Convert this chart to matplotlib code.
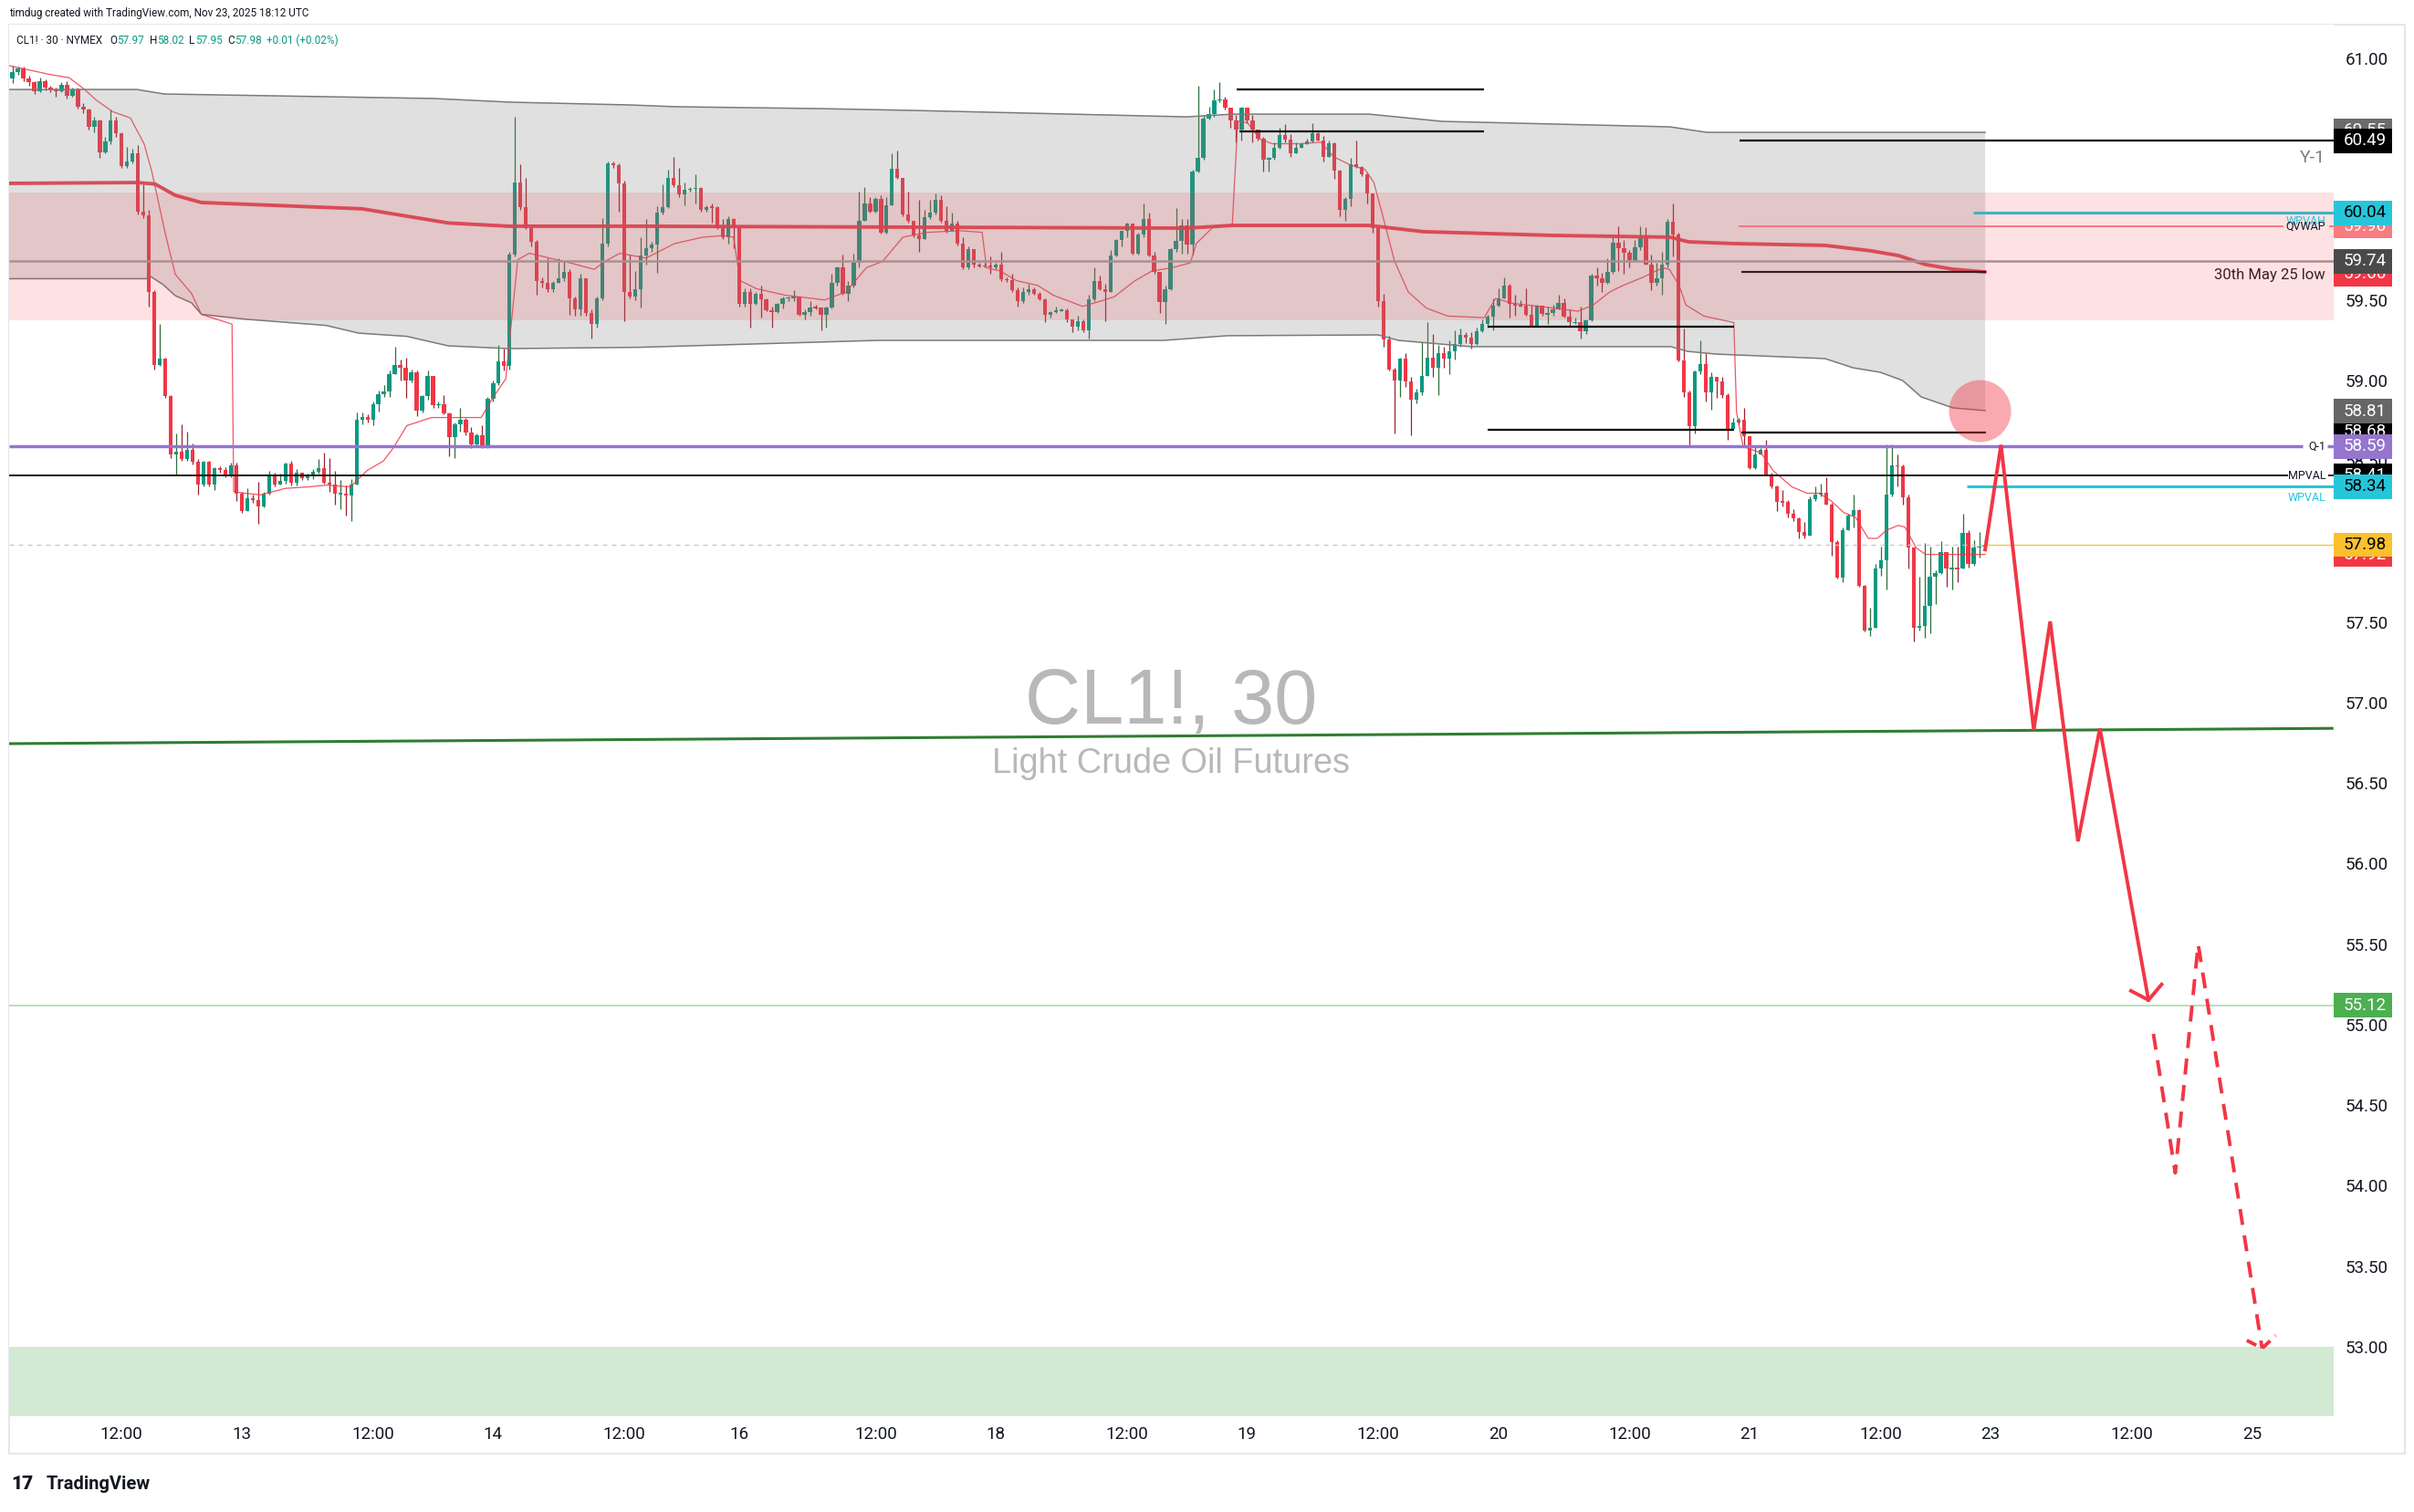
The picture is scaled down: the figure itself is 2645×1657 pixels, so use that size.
import numpy as np
import matplotlib.pyplot as plt
from matplotlib.patches import Rectangle
from matplotlib.transforms import blended_transform_factory

plt.rcParams['font.family'] = ['Roboto', 'DejaVu Sans']

# 30 min bars, x = bar number counted from Nov 13 00:00 UTC
first_bar = -42
first_open = 60.876
closes = [
    60.915, 60.935, 60.876, 60.851, 60.798, 60.857, 60.818, 60.808, 60.798, 60.834,
    60.769, 60.808, 60.701, 60.681, 60.574, 60.613, 60.417, 60.486, 60.613, 60.535,
    60.329, 60.359, 60.413, 60.046, 60.026, 59.548, 59.098, 59.138, 58.903, 58.542,
    58.557, 58.512, 58.571, 58.493, 58.356, 58.493, 58.356, 58.454, 58.444, 58.415,
    58.473, 58.298, 58.190, 58.268, 58.259, 58.220, 58.298, 58.415, 58.356, 58.376,
    58.483, 58.366, 58.425, 58.395, 58.405, 58.434, 58.454, 58.366, 58.356, 58.298,
    58.298, 58.288, 58.356, 58.757, 58.776, 58.757, 58.854, 58.913, 58.932, 59.040,
    59.098, 59.079, 59.001, 59.050, 58.815, 58.903, 59.030, 58.845, 58.854, 58.796,
    58.649, 58.727, 58.757, 58.679, 58.601, 58.659, 58.591, 58.884, 58.981, 59.118,
    59.089, 59.782, 60.232, 60.075, 59.948, 59.860, 59.616, 59.607, 59.568, 59.607,
    59.636, 59.675, 59.509, 59.441, 59.636, 59.421, 59.353, 59.509, 59.851, 60.349,
    60.339, 60.222, 59.548, 59.519, 59.567, 59.776, 59.823, 59.842, 60.041, 60.078,
    60.258, 60.211, 60.154, 60.182, 60.192, 60.195, 60.060, 60.078, 60.075, 59.946,
    59.890, 60.003, 59.946, 59.474, 59.550, 59.474, 59.540, 59.503, 59.436, 59.427,
    59.474, 59.512, 59.512, 59.521, 59.408, 59.427, 59.455, 59.451, 59.408, 59.455,
    59.606, 59.701, 59.540, 59.587, 59.729, 59.993, 60.097, 60.050, 60.126, 59.918,
    60.088, 60.314, 60.258, 60.031, 59.993, 59.899, 59.880, 60.012, 60.041, 60.120,
    59.993, 59.927, 59.975, 59.852, 59.701, 59.814, 59.720, 59.710, 59.714, 59.701,
    59.720, 59.629, 59.625, 59.559, 59.493, 59.550, 59.568, 59.540, 59.503, 59.408,
    59.427, 59.436, 59.436, 59.380, 59.332, 59.370, 59.313, 59.503, 59.616, 59.568,
    59.550, 59.776, 59.871, 59.927, 59.975, 59.786, 59.908, 60.003, 59.776, 59.672,
    59.489, 59.568, 59.814, 59.867, 59.965, 59.842, 60.295, 60.381, 60.626, 60.654,
    60.739, 60.743, 60.692, 60.617, 60.560, 60.692, 60.617, 60.560, 60.503, 60.371,
    60.381, 60.447, 60.522, 60.494, 60.409, 60.447, 60.466, 60.484, 60.535, 60.490,
    60.390, 60.471, 60.301, 60.060, 60.126, 60.343, 60.324, 60.282, 60.163, 59.946,
    59.493, 59.257, 59.068, 59.002, 59.134, 58.992, 58.879, 58.926, 59.030, 59.144,
    59.078, 59.172, 59.134, 59.181, 59.229, 59.285, 59.266, 59.229, 59.304, 59.351,
    59.398, 59.465, 59.512, 59.587, 59.474, 59.465, 59.465, 59.408, 59.342, 59.465,
    59.412, 59.417, 59.440, 59.484, 59.398, 59.361, 59.361, 59.304, 59.376, 59.653,
    59.635, 59.606, 59.672, 59.856, 59.823, 59.795, 59.748, 59.829, 59.884, 59.720,
    59.606, 59.635, 59.720, 59.988, 59.908, 59.125, 58.926, 58.719, 59.059, 59.100,
    58.926, 59.021, 58.993, 58.911, 58.700, 58.738, 58.756, 58.653, 58.458, 58.539,
    58.571, 58.416, 58.341, 58.246, 58.245, 58.171, 58.143, 58.061, 58.039, 58.265,
    58.294, 58.303, 58.231, 57.999, 57.778, 58.073, 58.161, 58.194, 57.727, 57.450,
    57.463, 57.831, 57.884, 58.294, 58.473, 58.467, 58.275, 57.963, 57.463, 57.476,
    57.601, 57.780, 57.803, 57.935, 57.831, 57.835, 57.831, 58.054, 57.859, 57.963,
    57.970, 57.980,
]
highs = [
    60.955, 60.95, 60.95, 60.89, 60.86, 60.88, 60.87, 60.83, 60.82, 60.85,
    60.86, 60.82, 60.82, 60.72, 60.69, 60.64, 60.62, 60.51, 60.68, 60.64,
    60.54, 60.45, 60.44, 60.46, 60.22, 60.06, 59.56, 59.35, 59.14, 58.91,
    58.67, 58.73, 58.68, 58.61, 58.51, 58.50, 58.50, 58.46, 58.47, 58.46,
    58.49, 58.49, 58.31, 58.33, 58.29, 58.37, 58.31, 58.44, 58.43, 58.42,
    58.49, 58.50, 58.45, 58.42, 58.42, 58.45, 58.51, 58.55, 58.52, 58.44,
    58.38, 58.35, 58.39, 58.80, 58.80, 58.79, 58.87, 58.94, 58.97, 59.06,
    59.21, 59.13, 59.14, 59.07, 59.06, 58.91, 59.06, 59.03, 58.87, 58.91,
    58.80, 58.74, 58.83, 58.77, 58.71, 58.67, 58.72, 58.90, 59.00, 59.22,
    59.20, 59.80, 60.64, 60.34, 60.26, 59.96, 59.87, 59.64, 59.76, 59.62,
    59.76, 59.74, 59.69, 59.52, 59.66, 59.63, 59.44, 59.52, 60.01, 60.36,
    60.36, 60.35, 60.24, 59.78, 59.68, 59.89, 60.00, 59.86, 60.08, 60.22,
    60.31, 60.39, 60.32, 60.23, 60.20, 60.28, 60.20, 60.09, 60.10, 60.08,
    60.00, 60.02, 60.01, 59.80, 59.57, 59.57, 59.55, 59.59, 59.51, 59.46,
    59.48, 59.52, 59.52, 59.56, 59.52, 59.44, 59.49, 59.47, 59.45, 59.46,
    59.66, 59.71, 59.78, 59.62, 59.79, 60.17, 60.20, 60.14, 60.14, 60.15,
    60.14, 60.41, 60.43, 60.26, 60.17, 59.99, 60.12, 60.06, 60.12, 60.16,
    60.15, 60.08, 60.04, 59.99, 59.89, 59.83, 59.81, 59.73, 59.73, 59.77,
    59.73, 59.80, 59.64, 59.66, 59.58, 59.58, 59.60, 59.58, 59.55, 59.51,
    59.43, 59.46, 59.45, 59.45, 59.38, 59.40, 59.38, 59.53, 59.70, 59.65,
    59.60, 59.81, 59.88, 59.93, 59.98, 59.97, 59.92, 60.10, 60.04, 59.80,
    59.67, 59.59, 59.82, 60.07, 60.00, 60.00, 60.31, 60.83, 60.65, 60.70,
    60.81, 60.85, 60.76, 60.69, 60.65, 60.70, 60.69, 60.65, 60.56, 60.51,
    60.39, 60.48, 60.57, 60.59, 60.53, 60.48, 60.48, 60.50, 60.60, 60.54,
    60.52, 60.49, 60.48, 60.31, 60.14, 60.38, 60.49, 60.33, 60.29, 60.16,
    59.95, 59.54, 59.28, 59.08, 59.14, 59.17, 59.02, 58.95, 59.24, 59.36,
    59.29, 59.22, 59.21, 59.25, 59.31, 59.32, 59.30, 59.30, 59.33, 59.38,
    59.41, 59.51, 59.57, 59.64, 59.60, 59.53, 59.50, 59.57, 59.47, 59.47,
    59.46, 59.46, 59.47, 59.53, 59.51, 59.44, 59.39, 59.46, 59.38, 59.66,
    59.70, 59.67, 59.76, 59.90, 59.96, 59.87, 59.81, 59.87, 59.96, 59.95,
    59.78, 59.73, 59.80, 60.00, 60.10, 59.92, 59.32, 58.94, 59.06, 59.25,
    59.17, 59.05, 59.02, 59.02, 58.92, 58.77, 58.77, 58.83, 58.64, 58.59,
    58.58, 58.63, 58.43, 58.35, 58.32, 58.26, 58.20, 58.15, 58.12, 58.28,
    58.34, 58.36, 58.40, 58.24, 58.01, 58.09, 58.17, 58.29, 58.20, 57.73,
    57.59, 57.86, 57.97, 58.605, 58.605, 58.54, 58.48, 58.29, 57.95, 57.78,
    57.99, 57.97, 57.82, 58.00, 57.92, 57.97, 57.97, 58.17, 58.07, 58.01,
    58.06, 58.02,
]
lows = [
    60.847, 60.90, 60.86, 60.83, 60.78, 60.79, 60.80, 60.79, 60.76, 60.79,
    60.75, 60.76, 60.69, 60.66, 60.56, 60.54, 60.38, 60.41, 60.47, 60.51,
    60.32, 60.32, 60.35, 60.03, 60.01, 59.46, 59.07, 59.09, 58.89, 58.52,
    58.41, 58.50, 58.50, 58.48, 58.29, 58.34, 58.34, 58.32, 58.43, 58.40,
    58.40, 58.25, 58.18, 58.20, 58.24, 58.11, 58.21, 58.29, 58.34, 58.36,
    58.36, 58.35, 58.35, 58.38, 58.38, 58.39, 58.42, 58.36, 58.31, 58.23,
    58.20, 58.16, 58.13, 58.36, 58.73, 58.74, 58.72, 58.81, 58.90, 58.90,
    59.04, 59.00, 58.89, 58.99, 58.78, 58.80, 58.88, 58.83, 58.83, 58.79,
    58.53, 58.52, 58.68, 58.66, 58.58, 58.59, 58.58, 58.58, 58.87, 58.97,
    59.06, 59.07, 59.77, 60.06, 59.94, 59.83, 59.53, 59.58, 59.55, 59.55,
    59.61, 59.62, 59.41, 59.40, 59.40, 59.40, 59.26, 59.33, 59.50, 59.83,
    60.32, 60.05, 59.37, 59.51, 59.50, 59.455, 59.72, 59.80, 59.67, 60.03,
    60.07, 60.20, 60.14, 60.09, 60.17, 60.10, 60.05, 60.05, 59.98, 59.94,
    59.88, 59.85, 59.82, 59.46, 59.46, 59.33, 59.47, 59.39, 59.43, 59.33,
    59.42, 59.45, 59.49, 59.49, 59.40, 59.38, 59.40, 59.44, 59.31, 59.33,
    59.45, 59.59, 59.53, 59.49, 59.58, 59.70, 59.99, 60.04, 60.04, 59.91,
    59.91, 60.09, 60.25, 60.02, 59.98, 59.89, 59.80, 59.89, 60.00, 60.03,
    59.98, 59.92, 59.94, 59.84, 59.69, 59.69, 59.70, 59.70, 59.70, 59.66,
    59.69, 59.62, 59.61, 59.55, 59.46, 59.48, 59.53, 59.53, 59.50, 59.36,
    59.39, 59.42, 59.43, 59.36, 59.30, 59.31, 59.30, 59.26, 59.49, 59.56,
    59.37, 59.55, 59.77, 59.83, 59.89, 59.78, 59.78, 59.89, 59.77, 59.66,
    59.42, 59.35, 59.56, 59.80, 59.79, 59.79, 59.78, 60.29, 60.37, 60.62,
    60.64, 60.73, 60.68, 60.57, 60.48, 60.49, 60.60, 60.48, 60.49, 60.30,
    60.30, 60.37, 60.44, 60.48, 60.39, 60.42, 60.45, 60.47, 60.48, 60.49,
    60.36, 60.39, 60.25, 60.02, 59.99, 60.08, 60.32, 60.27, 60.10, 59.92,
    59.46, 59.21, 59.06, 58.67, 58.90, 58.96, 58.66, 58.86, 58.91, 59.03,
    59.02, 58.91, 59.08, 59.04, 59.13, 59.21, 59.23, 59.20, 59.22, 59.30,
    59.33, 59.31, 59.46, 59.51, 59.39, 59.40, 59.46, 59.40, 59.34, 59.34,
    59.40, 59.35, 59.40, 59.44, 59.39, 59.34, 59.35, 59.26, 59.29, 59.37,
    59.59, 59.55, 59.60, 59.66, 59.68, 59.66, 59.70, 59.74, 59.81, 59.72,
    59.56, 59.59, 59.53, 59.70, 59.77, 59.12, 58.90, 58.60, 58.67, 59.04,
    58.87, 58.82, 58.89, 58.89, 58.63, 58.70, 58.73, 58.59, 58.45, 58.45,
    58.55, 58.41, 58.33, 58.19, 58.22, 58.15, 58.13, 58.02, 58.02, 58.04,
    58.25, 58.28, 58.23, 57.91, 57.77, 57.75, 58.07, 58.09, 57.72, 57.44,
    57.415, 57.47, 57.79, 57.70, 58.28, 58.34, 58.23, 57.83, 57.378, 57.45,
    57.40, 57.43, 57.61, 57.80, 57.72, 57.70, 57.75, 57.83, 57.84, 57.85,
    57.90, 57.95,
]

# session vwap (thin red line)
svwap_x = [-42.6, -35.1, -31.6, -28.9, -26.6, -23.7, -20.4, -17.9, -16.5, -14.0,
           -12.2, -9.2, -7.4, -1.8, -1.5, 0.5, 3.5, 7.9, 12.4, 15.4, 19.9, 22.9, 25.9,
           27.7, 30.2, 34.7, 43.8, 45.9, 48.3, 50.5, 52.6, 60.1, 64.5, 66.5, 69.2,
           74.0, 79.2, 84.4, 88.2, 90.0, 91.2, 94.2, 99.4, 106.7, 110.6, 114.3, 117.3,
           121.0, 125.5, 131.5, 135.5, 136.3, 138.8, 141.8, 145.7, 148.5, 153.9, 156.9,
           159.7, 163.5, 166.6, 170.2, 173.6, 174.7, 177.7, 181.3, 182.3, 184.1, 186.3,
           188.6, 193.8, 197.5, 199.8, 202.8, 205.6, 207.2, 208.7, 211.0, 213.5, 216.8,
           220.7, 227.4, 229.5, 232.5, 240.1, 244.6, 247.4, 250.4, 252.8, 256.4, 260.1,
           261.3, 263.1, 264.3, 267.6, 273.1, 273.6, 274.8, 278.1, 280.3, 283.7, 286.5,
           288.7, 291.0, 293.2, 295.4, 297.7, 299.4, 301.0, 303.2, 304.4, 306.5, 308.2,
           312.1, 319.1]
svwap_y = [60.955, 60.90, 60.88, 60.81, 60.74, 60.67, 60.63, 60.47, 60.30, 59.91,
           59.66, 59.54, 59.41, 59.35, 58.31, 58.30, 58.29, 58.33, 58.34, 58.35, 58.34,
           58.44, 58.50, 58.58, 58.72, 58.77, 58.77, 58.89, 59.01, 59.75, 59.79, 59.73,
           59.69, 59.74, 59.79, 59.76, 59.85, 59.89, 59.90, 59.89, 59.62, 59.57, 59.53,
           59.50, 59.55, 59.70, 59.74, 59.89, 59.92, 59.93, 59.92, 59.70, 59.68, 59.62,
           59.59, 59.53, 59.46, 59.49, 59.52, 59.62, 59.68, 59.70, 59.73, 59.85, 59.95,
           59.97, 60.61, 60.60, 60.50, 60.47, 60.47, 60.48, 60.39, 60.34, 60.31, 60.23,
           60.04, 59.74, 59.55, 59.45, 59.40, 59.39, 59.51, 59.48, 59.45, 59.43, 59.47,
           59.55, 59.59, 59.64, 59.70, 59.69, 59.59, 59.47, 59.40, 59.36, 58.80, 58.59,
           58.55, 58.44, 58.34, 58.30, 58.30, 58.25, 58.18, 58.15, 58.02, 58.02, 58.07,
           58.10, 58.09, 57.96, 57.92, 57.92, 57.92]

# thick vwap
vwap_x = [-42.6, -19.2, -15.9, -12.2, -7.4, 22.0, 37.8, 48.9, 72.7, 172.9, 181.3,
          206.3, 216.3, 239.7, 261.4, 264.8, 273.1, 289.8, 298.2, 303.2, 308.2, 313.2, 319.1]
vwap_y = [60.224, 60.229, 60.22, 60.15, 60.105, 60.066, 59.978, 59.958, 59.958, 59.946,
          59.963, 59.963, 59.924, 59.901, 59.890, 59.861, 59.850, 59.839, 59.805, 59.776,
          59.720, 59.691, 59.674]

# deviation band
band_up_x = [-42.6, -19.2, -14.2, 35.1, 49.3, 71.0, 79.4, 106.1, 122.8, 172.9, 181.3,
             206.3, 219.7, 261.4, 268.1, 319.1]
band_up_y = [60.807, 60.807, 60.779, 60.751, 60.728, 60.711, 60.700, 60.688, 60.677,
             60.637, 60.654, 60.654, 60.609, 60.575, 60.541, 60.541]
band_lo_x = [-42.6, -17.5, -16.7, -14.4, -12.2, -9.2, -7.4, 0.5, 15.4, 21.4, 30.2, 37.8,
             48.9, 72.7, 116.4, 168.7, 180.4, 208.0, 211.7, 225.0, 261.6, 264.6, 269.8,
             289.8, 294.9, 299.9, 304.0, 307.4, 313.2, 319.1]
band_lo_y = [59.632, 59.632, 59.646, 59.595, 59.527, 59.482, 59.411, 59.381, 59.342,
             59.294, 59.274, 59.215, 59.198, 59.206, 59.249, 59.249, 59.278, 59.283,
             59.249, 59.21, 59.21, 59.181, 59.164, 59.136, 59.079, 59.051, 59.0, 58.898,
             58.830, 58.813]

# projection drawing
proj_x = [319.1, 322.0, 328.0, 331.0, 336.1, 340.1, 349.0]
proj_y = [57.95, 58.60, 56.83, 57.504, 56.139, 56.84, 55.153]
proj_head_x = [345.8, 349.0, 351.4]
proj_head_y = [55.21, 55.153, 55.25]
dash_x = [349.9, 353.9, 358.1, 369.8]
dash_y = [54.943, 54.08, 55.50, 52.99]
dash_head_x = [367.0, 369.8, 372.3]
dash_head_y = [53.04, 52.99, 53.07]

trend_x = [-42.6, 382.6]
trend_y = [56.745, 56.84]

tick_pos = [-22, 0, 24, 46, 70, 91, 116, 138, 162, 184, 208, 230, 254, 276, 300, 320, 346, 368]
tick_txt = ['12:00', '13', '12:00', '14', '12:00', '16', '12:00', '18', '12:00', '19',
            '12:00', '20', '12:00', '21', '12:00', '23', '12:00', '25']
price_ticks = [61.0, 60.5, 60.0, 59.5, 59.0, 58.5, 58.0, 57.5, 57.0, 56.5, 56.0, 55.5,
               55.0, 54.5, 54.0, 53.5, 53.0]

box_prices = [60.55, 60.49, 59.96, 60.04, 59.66, 59.74, 58.68, 58.81, 58.59, 58.41,
              58.34, 57.92, 57.98, 55.12]
box_colors = ['#6b6b6b', '#000000', '#f77c80', '#26c6da', '#f23645', '#4a4a4a', '#000000',
              '#666666', '#9575cd', '#000000', '#26c6da', '#f23645', '#fbc02d', '#4caf50']
box_txt_colors = ['white', 'white', 'white', 'black', 'white', 'white', 'white', 'white',
                  'white', 'white', 'black', 'white', 'black', 'white']

W, H = 2645, 1657
fig = plt.figure(figsize=(W / 100, H / 100), dpi=100)
ax = fig.add_axes([10 / W, 1 - 1552 / H, 2547 / W, 1525 / H])
ax.set_xlim(-42.6, 382.9)
ax.set_ylim(52.569, 61.2096)
for s in ax.spines.values():
    s.set_visible(False)

# candles
c = np.array(closes)
x = np.arange(first_bar, first_bar + len(c))
o = np.concatenate([[first_open], c[:-1]])
h = np.maximum(np.array(highs), np.maximum(o, c))
l = np.minimum(np.array(lows), np.minimum(o, c))
up = c >= o
ax.vlines(x[up], l[up], h[up], color='#2f6f3a', lw=0.9, zorder=2)
ax.vlines(x[~up], l[~up], h[~up], color='#9b2230', lw=0.9, zorder=2)
size = np.abs(c - o)
body = np.maximum(size, 0.008)
bot = np.minimum(o, c) - (body - size) / 2
ax.bar(x[up], body[up], bottom=bot[up], width=0.72, color='#089981', lw=0, zorder=3)
ax.bar(x[~up], body[~up], bottom=bot[~up], width=0.72, color='#f23645', lw=0, zorder=3)

ax.plot(svwap_x, svwap_y, color='#f23645', lw=0.9, alpha=0.85, zorder=4)
ax.plot(vwap_x, vwap_y, color='#f23645', lw=2.8, alpha=0.95, zorder=4,
        solid_capstyle='round')

# band
ax.fill(np.r_[band_up_x, band_lo_x[::-1]], np.r_[band_up_y, band_lo_y[::-1]],
        color='#808080', alpha=0.24, lw=0, zorder=4.5)
ax.plot(band_up_x, band_up_y, color='#7a7a7a', lw=1.1, zorder=4.6)
ax.plot(band_lo_x, band_lo_y, color='#7a7a7a', lw=1.1, zorder=4.6)

# horizontal rays under the zone
ax.hlines(59.74, -42.6, 382.9, color='#9e9e9e', lw=1.8, zorder=5)
ax.hlines(60.04, 316.9, 382.9, color='#26c6da', lw=2.2, zorder=5)
ax.hlines(59.96, 274.0, 373.7, color='#f77c80', lw=1.3, zorder=5)
ax.hlines(59.96, 382.0, 382.9, color='#f77c80', lw=1.3, zorder=5)
ax.hlines(59.676, 274.5, 319.2, color='#1a1a1a', lw=1.6, zorder=5)

# black rays
ray_y = [60.81, 60.547, 59.334, 58.694, 58.677, 60.49]
ray_x0 = [182.1, 182.6, 228.0, 228.0, 274.5, 274.1]
ray_x1 = [227.4, 227.4, 273.1, 273.1, 319.2, 382.9]
ax.hlines(ray_y, ray_x0, ray_x1, color='#000000', lw=1.6, zorder=5.5)

# zones
ax.axhspan(59.374, 60.167, color='#f23645', alpha=0.15, lw=0, zorder=6)
ax.axhspan(52.0, 53.0, color='#d2ead4', lw=0, zorder=1)

# other levels
ax.hlines(58.59, -42.6, 377.2, color='#9575cd', lw=2.5, zorder=7)
ax.hlines(58.59, 381.7, 382.9, color='#9575cd', lw=2.5, zorder=7)
ax.hlines(58.41, -42.6, 374.5, color='#000000', lw=1.3, zorder=7)
ax.hlines(58.41, 381.9, 382.9, color='#000000', lw=1.3, zorder=7)
ax.hlines(58.34, 315.7, 382.9, color='#26c6da', lw=2.2, zorder=7)
ax.hlines(57.98, -42.6, 319.1, color='#c3c6ce', lw=0.9, linestyles=(0, (4, 4)), zorder=4)
ax.hlines(57.98, 319.1, 382.9, color='#fbc02d', lw=0.9, zorder=7)
ax.hlines(55.12, -42.6, 382.9, color='#a5d6a7', lw=1.1, zorder=7)
ax.plot(trend_x, trend_y, color='#2e7d32', lw=2.2, zorder=7)

# projection
red = '#f23645'
ax.plot(proj_x, proj_y, color=red, lw=2.8, zorder=8, solid_joinstyle='miter')
ax.plot(proj_head_x, proj_head_y, color=red, lw=2.8, zorder=8)
ax.plot(dash_x, dash_y, color=red, lw=2.8, zorder=8, linestyle=(0, (4.5, 3)))
ax.plot(dash_head_x, dash_head_y, color=red, lw=2.8, zorder=8, linestyle=(0, (3, 2)))
ax.scatter([318.0], [58.813], s=2400, color=red, alpha=0.42, lw=0, zorder=8)

# watermark
ax.text(170.1, 56.87, 'CL1!, 30', family=['Liberation Sans', 'DejaVu Sans'], fontsize=61,
        color='#b8b8b8', ha='center', va='baseline', zorder=0.5)
ax.text(170.1, 56.564, 'Light Crude Oil Futures', family=['Liberation Sans', 'DejaVu Sans'],
        fontsize=27.3, color='#b8b8b8', ha='center', va='baseline', zorder=0.5)

# labels next to the scale
tr = blended_transform_factory(ax.transAxes, ax.transData)
lab_x = 0.9965
ax.text(lab_x, 60.382, 'Y-1', transform=tr, ha='right', va='center', fontsize=14,
        color='#787b86', zorder=9)
ax.text(lab_x, 59.99, 'WPVAH', transform=tr, ha='right', va='center', fontsize=9,
        color='#26c6da', zorder=9)
ax.text(lab_x, 59.955, 'QVWAP', transform=tr, ha='right', va='center', fontsize=9,
        color='#131722', zorder=9)
ax.text(lab_x, 59.655, '30th May 25 low', transform=tr, ha='right', va='center',
        fontsize=12, color='#3b2226', zorder=9)
ax.text(lab_x, 58.59, 'Q-1', transform=tr, ha='right', va='center', fontsize=9,
        color='#131722', zorder=9)
ax.text(lab_x, 58.41, 'MPVAL', transform=tr, ha='right', va='center', fontsize=9,
        color='#131722', zorder=9)
ax.text(lab_x, 58.27, 'WPVAL', transform=tr, ha='right', va='center', fontsize=9,
        color='#26c6da', zorder=9)

# axes ticks
ax.set_xticks(tick_pos, labels=tick_txt)
ax.set_yticks(price_ticks, labels=[f'{p:.2f}' for p in price_ticks])
ax.tick_params(axis='x', length=0, pad=8, labelsize=13.5, labelcolor='#131722')
ax.tick_params(axis='y', left=False, right=False, labelleft=False, labelright=True,
               length=0, pad=9.4, labelsize=13.5, labelcolor='#131722')

# price boxes on the scale
bw = 64 / 2547
bh = 27 / 176.5
for k, (p, fc, tc) in enumerate(zip(box_prices, box_colors, box_txt_colors)):
    ax.add_patch(Rectangle((1.0, p - bh / 2), bw, bh, transform=tr, facecolor=fc,
                           edgecolor='none', clip_on=False, zorder=20 + k))
    ax.text(1.0043, p, f'{p:.2f}', transform=tr, ha='left', va='center', fontsize=13.5,
            color=tc, clip_on=False, zorder=20.5 + k)

# header and legend
hdr = ax.annotate('timdug created with TradingView.com, Nov 23, 2025 18:12 UTC',
                  xy=(10, H - 21), xycoords='figure pixels', fontsize=8.5,
                  color='#131722', ha='left', va='bottom', annotation_clip=False)
legend = [('CL1! · 30 · NYMEX', '#131722', 0), ('O', '#131722', 6), ('57.97', '#089981', 0),
          ('H', '#131722', 4), ('58.02', '#089981', 0), ('L', '#131722', 4),
          ('57.95', '#089981', 0), ('C', '#131722', 4), ('57.98', '#089981', 0),
          ('+0.01 (+0.02%)', '#089981', 4)]
prev = ax.annotate(legend[0][0], xy=(18, H - 51), xycoords='figure pixels', fontsize=8.5,
                   color=legend[0][1], ha='left', va='bottom', annotation_clip=False)
for txt, col, gap in legend[1:]:
    prev = ax.annotate(txt, xy=(1, 0), xycoords=prev, xytext=(gap, 0),
                       textcoords='offset points', fontsize=8.5, color=col, ha='left',
                       va='bottom', annotation_clip=False)

fig.text(12 / W, 1 - 1627 / H, '17', fontsize=15, fontweight='heavy', color='#131722',
         ha='left', va='center')
fig.text(51 / W, 1 - 1627 / H, 'TradingView', fontsize=14.5, fontweight='bold',
         color='#131722', ha='left', va='center')

# pane border
fig.add_artist(Rectangle((10 / W, 1 - 1593 / H), 2625 / W, 1566 / H,
                         transform=fig.transFigure, fill=False, edgecolor='#e0e3eb',
                         lw=1.2, zorder=0))

fig.savefig('out.png', dpi=100, facecolor='white')
